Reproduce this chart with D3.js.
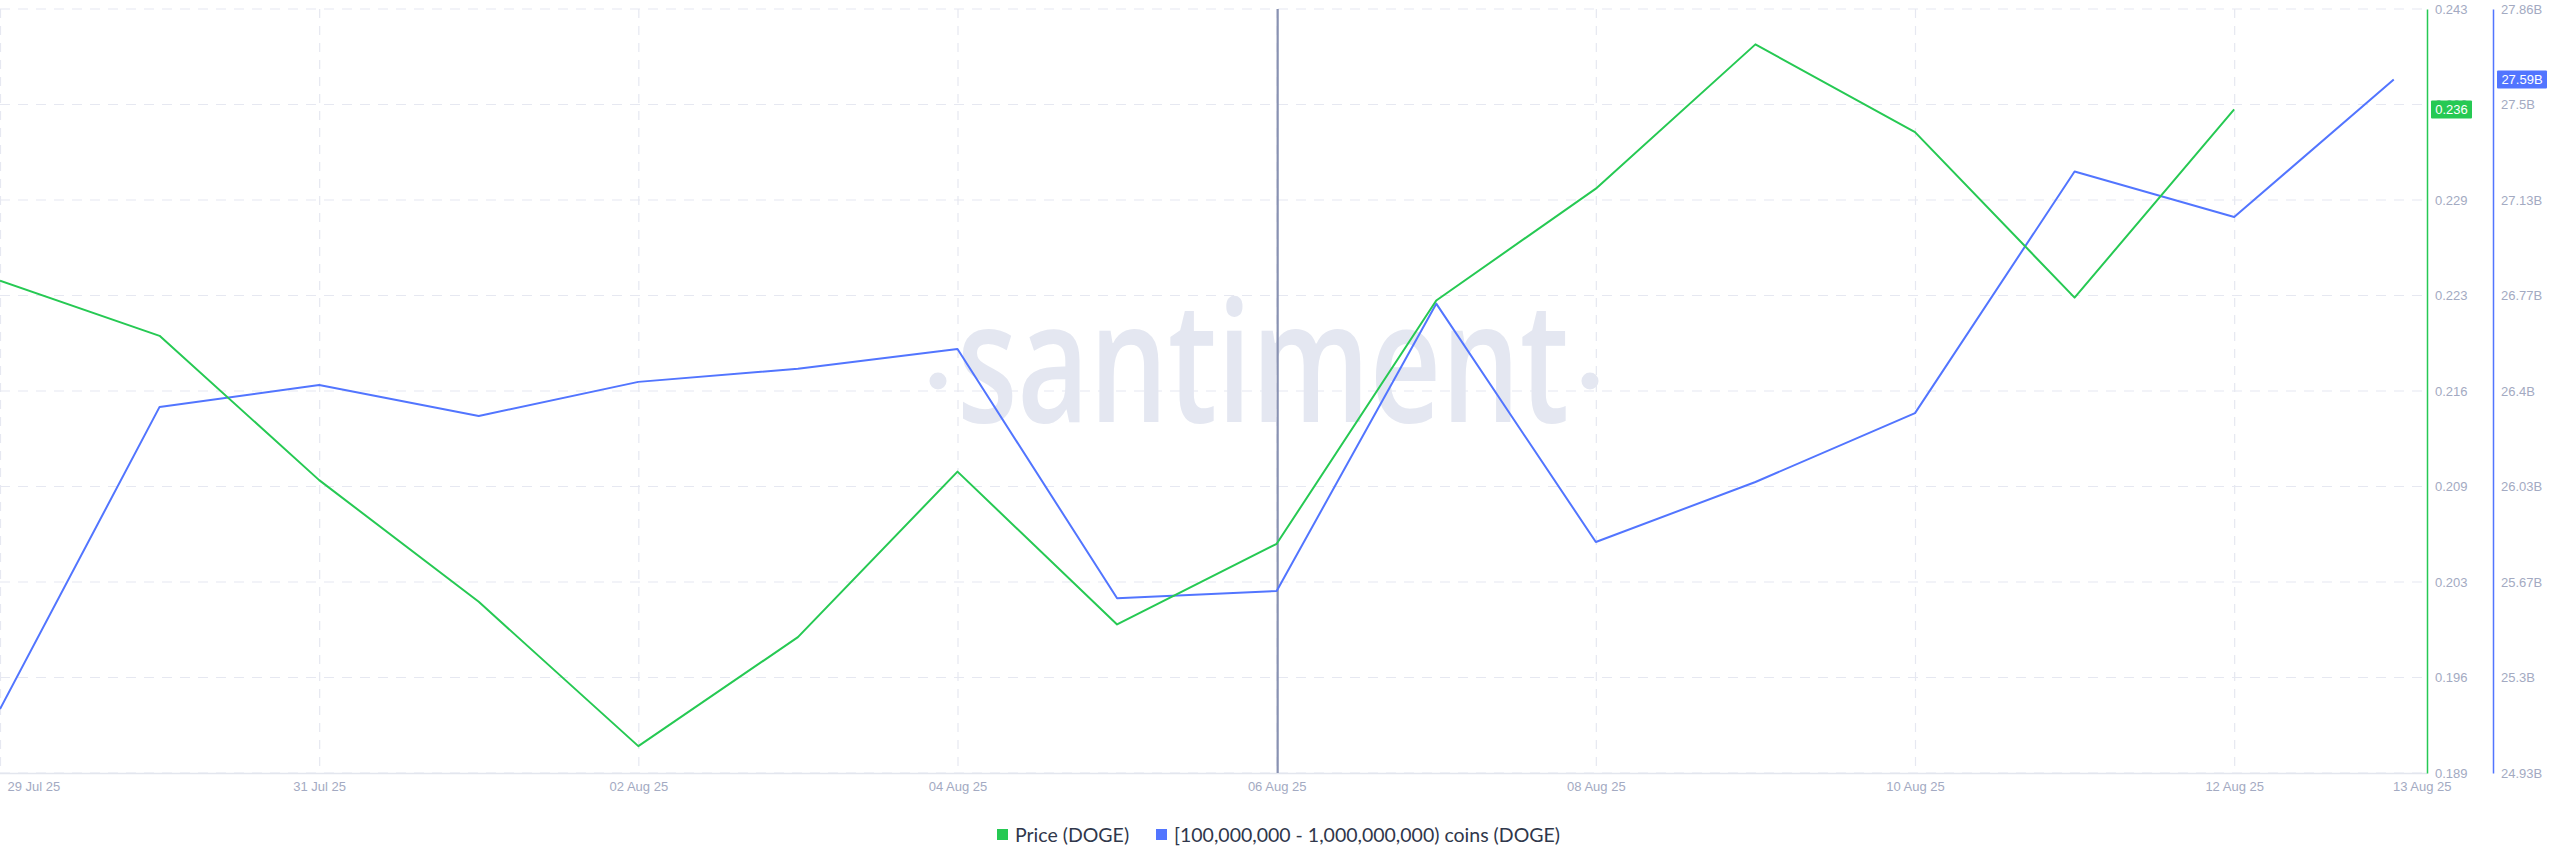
<!DOCTYPE html>
<html>
<head>
<meta charset="utf-8">
<script src="https://cdn.jsdelivr.net/npm/d3@7"></script>
<style>
  html, body { margin: 0; padding: 0; background: #fff; }
  svg { display: block; }
</style>
</head>
<body>
<svg id="chart" width="2560" height="867"></svg>
<script>
// ---------------- data ----------------
const dates = ["2025-07-29","2025-07-30","2025-07-31","2025-08-01","2025-08-02","2025-08-03","2025-08-04","2025-08-05",
               "2025-08-06","2025-08-07","2025-08-08","2025-08-09","2025-08-10","2025-08-11","2025-08-12","2025-08-13"];
const priceDOGE = [0.2238, 0.2199, 0.2097, 0.2011, 0.1909, 0.1986, 0.2103, 0.1995,
                   0.2052, 0.2224, 0.2303, 0.2405, 0.2343, 0.2226, 0.2359];
const holdingsB = [25.175, 26.334, 26.418, 26.299, 26.430, 26.480, 26.556, 25.600,
                   25.628, 26.730, 25.816, 26.046, 26.310, 27.237, 27.062, 27.59];
const xTickDates  = ["2025-07-29","2025-07-31","2025-08-02","2025-08-04","2025-08-06","2025-08-08","2025-08-10","2025-08-12","2025-08-13"];
const xTickLabels = ["29 Jul 25","31 Jul 25","02 Aug 25","04 Aug 25","06 Aug 25","08 Aug 25","10 Aug 25","12 Aug 25","13 Aug 25"];
const priceTickLabels = ["0.189","0.196","0.203","0.209","0.216","0.223","0.229","0.236","0.243"];
const holdTickLabels  = ["24.93B","25.3B","25.67B","26.03B","26.4B","26.77B","27.13B","27.5B","27.86B"];
const priceDomain = [0.189, 0.243];
const holdDomain  = [24.93, 27.86];
const markerDate = "2025-08-06";
const seriesNames = ["Price (DOGE)", "[100,000,000 - 1,000,000,000) coins (DOGE)"];

// ---------------- layout ----------------
const GREEN = "#26c953", BLUE = "#5275ff";
const plotLeft = 0, plotRight = 2427, plotTop = 9, plotBottom = 773;
const blueAxisX = 2493;
const parse = d3.utcParse("%Y-%m-%d");

const svg = d3.select("#chart");

const x = d3.scaleUtc()
  .domain([parse(dates[0]), d3.utcHour.offset(parse(dates[dates.length-1]), 5.2)])
  .range([plotLeft, plotRight]);
const yP = d3.scaleLinear().domain(priceDomain).range([plotBottom, plotTop]);
const yH = d3.scaleLinear().domain(holdDomain).range([plotBottom, plotTop]);

const pTickVals = d3.range(priceTickLabels.length).map(i => priceDomain[0] + i*(priceDomain[1]-priceDomain[0])/(priceTickLabels.length-1));
const hTickVals = d3.range(holdTickLabels.length).map(i => holdDomain[0] + i*(holdDomain[1]-holdDomain[0])/(holdTickLabels.length-1));

// ---------------- grid ----------------
const grid = svg.append("g");
grid.selectAll("line.h").data(pTickVals).join("line")
  .attr("x1", plotLeft).attr("x2", plotRight)
  .attr("y1", d => yP(d)).attr("y2", d => yP(d))
  .attr("stroke", "#e6e8f1").attr("stroke-width", 1.2).attr("stroke-dasharray", "10,8");
grid.selectAll("line.v").data(xTickDates.slice(0, -1)).join("line")
  .attr("x1", d => x(parse(d)) + 0.5).attr("x2", d => x(parse(d)) + 0.5)
  .attr("y1", plotTop).attr("y2", plotBottom)
  .attr("stroke", "#e6e8f1").attr("stroke-width", 1.2).attr("stroke-dasharray", "9,8");

// ---------------- watermark ----------------
const wm = svg.append("g").attr("fill", "#e4e7f1");
wm.append("text")
  .attr("x", 957).attr("y", 422)
  .attr("font-family", "'Open Sans', sans-serif")
  .attr("font-size", 168).attr("font-weight", 600)
  .attr("textLength", 612).attr("lengthAdjust", "spacingAndGlyphs")
  .text("santiment");
wm.append("circle").attr("cx", 938).attr("cy", 381).attr("r", 8.5);
wm.append("circle").attr("cx", 1590).attr("cy", 381).attr("r", 8.5);

// ---------------- bottom axis ----------------
svg.append("line")
  .attr("x1", plotLeft).attr("x2", plotRight)
  .attr("y1", plotBottom + 0.5).attr("y2", plotBottom + 0.5)
  .attr("stroke", "#e3e6ee").attr("stroke-width", 1.5);

const xAxis = d3.axisBottom(x)
  .tickValues(xTickDates.map(parse))
  .tickFormat((d, i) => xTickLabels[i])
  .tickSize(0).tickPadding(8);
const gx = svg.append("g").attr("transform", `translate(0,${plotBottom + 1})`).call(xAxis);
gx.select(".domain").remove();
gx.selectAll("text")
  .attr("font-family", "'Liberation Sans', Arial, sans-serif")
  .attr("font-size", 13).attr("fill", "#a3aac2")
  .attr("text-anchor", (d, i) => i === 0 ? "start" : "middle")
  .attr("dx", (d, i) => i === 0 ? 7 : (i === xTickLabels.length - 1 ? 28 : 0));

// ---------------- 06 Aug marker ----------------
svg.append("line")
  .attr("x1", x(parse(markerDate)) + 1).attr("x2", x(parse(markerDate)) + 1)
  .attr("y1", plotTop).attr("y2", plotBottom)
  .attr("stroke", "#8992b2").attr("stroke-width", 2.2);

// ---------------- lines ----------------
const priceData = priceDOGE.map((v, i) => ({ d: parse(dates[i]), v }));
const holdData  = holdingsB.map((v, i) => ({ d: parse(dates[i]), v }));

svg.append("path").datum(holdData)
  .attr("fill", "none").attr("stroke", BLUE).attr("stroke-width", 2).attr("stroke-linejoin", "round")
  .attr("d", d3.line().x(p => x(p.d)).y(p => yH(p.v)));
svg.append("path").datum(priceData)
  .attr("fill", "none").attr("stroke", GREEN).attr("stroke-width", 2).attr("stroke-linejoin", "round")
  .attr("d", d3.line().x(p => x(p.d)).y(p => yP(p.v)));

// ---------------- right axes ----------------
function styleAxis(g, color) {
  g.select(".domain").attr("stroke", color).attr("stroke-width", 1.5);
  g.selectAll("text")
    .attr("font-family", "'Liberation Sans', Arial, sans-serif")
    .attr("font-size", 13).attr("fill", "#a3aac2");
}
const gP = svg.append("g").attr("transform", `translate(${plotRight},0)`)
  .call(d3.axisRight(yP).tickValues(pTickVals).tickFormat((d, i) => priceTickLabels[i]).tickSize(0).tickSizeOuter(0).tickPadding(8));
styleAxis(gP, GREEN);
const gH = svg.append("g").attr("transform", `translate(${blueAxisX},0)`)
  .call(d3.axisRight(yH).tickValues(hTickVals).tickFormat((d, i) => holdTickLabels[i]).tickSize(0).tickSizeOuter(0).tickPadding(8));
styleAxis(gH, BLUE);

// ---------------- last value badges ----------------
function badge(xLeft, yCenter, w, text, color) {
  const g = svg.append("g");
  g.append("rect").attr("x", xLeft).attr("y", yCenter - 9).attr("width", w).attr("height", 18)
    .attr("fill", color).attr("rx", 1);
  g.append("text").attr("x", xLeft + w/2).attr("y", yCenter).attr("dy", "0.35em")
    .attr("text-anchor", "middle")
    .attr("font-family", "'Liberation Sans', Arial, sans-serif").attr("font-size", 13)
    .attr("fill", "#fff").text(text);
}
const lastP = priceDOGE[priceDOGE.length - 1];
const lastH = holdingsB[holdingsB.length - 1];
badge(plotRight + 4, yP(lastP), 41, d3.format(".3f")(lastP), GREEN);
badge(blueAxisX + 4, yH(lastH), 50, d3.format(".2f")(lastH) + "B", BLUE);

// ---------------- legend ----------------
const legend = svg.append("g");
const legendItems = [
  { name: seriesNames[0], color: GREEN, x: 997 },
  { name: seriesNames[1], color: BLUE,  x: 1156 }
];
legendItems.forEach(it => {
  legend.append("rect").attr("x", it.x).attr("y", 829).attr("width", 11).attr("height", 11).attr("fill", it.color);
  legend.append("text").attr("x", it.x + 18).attr("y", 835).attr("dy", "0.35em")
    .attr("font-family", "Lato, 'Open Sans', sans-serif").attr("font-size", 19.5)
    .attr("fill", "#30374b").text(it.name);
});
</script>
</body>
</html>
